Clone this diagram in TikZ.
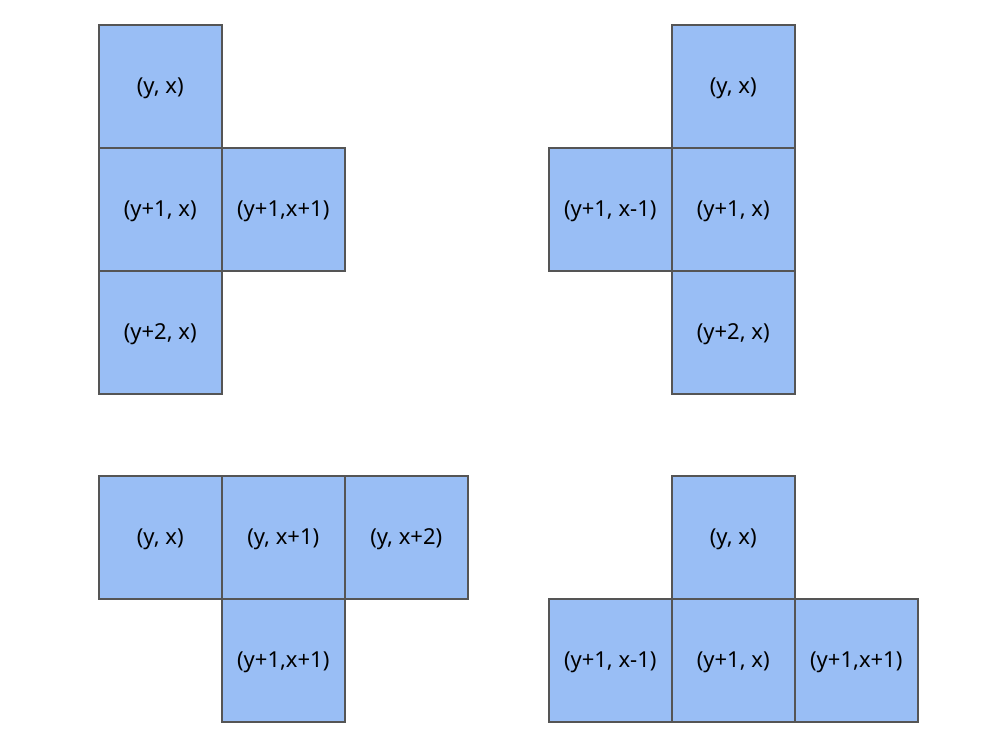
\documentclass[tikz,border=0pt]{standalone}
\usepackage{fontspec}
\setmainfont{Noto Sans}
\definecolor{cellfill}{HTML}{99BEF5}
\definecolor{cellline}{HTML}{555555}
\begin{document}
\begin{tikzpicture}[x=1pt,y=-1pt,
  cell/.style={draw=cellline,line width=1.5pt,fill=cellfill,minimum width=123pt,minimum height=123pt,inner sep=0pt,font=\fontsize{22}{26}\selectfont,anchor=north west,text depth=2pt}]
\useasboundingbox (0,0) rectangle (984,747);
% top-left
\node[cell] (a1) at (98,24) {(y, x)};
\node[cell] (a2) at (98,147) {(y+1, x)};
\node[cell] (a3) at (221,147) {(y+1,x+1)};
\node[cell] (a4) at (98,270) {(y+2, x)};
% top-right
\node[cell] (b1) at (671,24) {(y, x)};
\node[cell] (b2) at (548,147) {(y+1, x-1)};
\node[cell] (b3) at (671,147) {(y+1, x)};
\node[cell] (b4) at (671,270) {(y+2, x)};
% bottom-left
\node[cell] (c1) at (98,475) {(y, x)};
\node[cell] (c2) at (221,475) {(y, x+1)};
\node[cell] (c3) at (344,475) {(y, x+2)};
\node[cell] (c4) at (221,598) {(y+1,x+1)};
% bottom-right
\node[cell] (d1) at (671,475) {(y, x)};
\node[cell] (d2) at (548,598) {(y+1, x-1)};
\node[cell] (d3) at (671,598) {(y+1, x)};
\node[cell] (d4) at (794,598) {(y+1,x+1)};
\end{tikzpicture}
\end{document}
